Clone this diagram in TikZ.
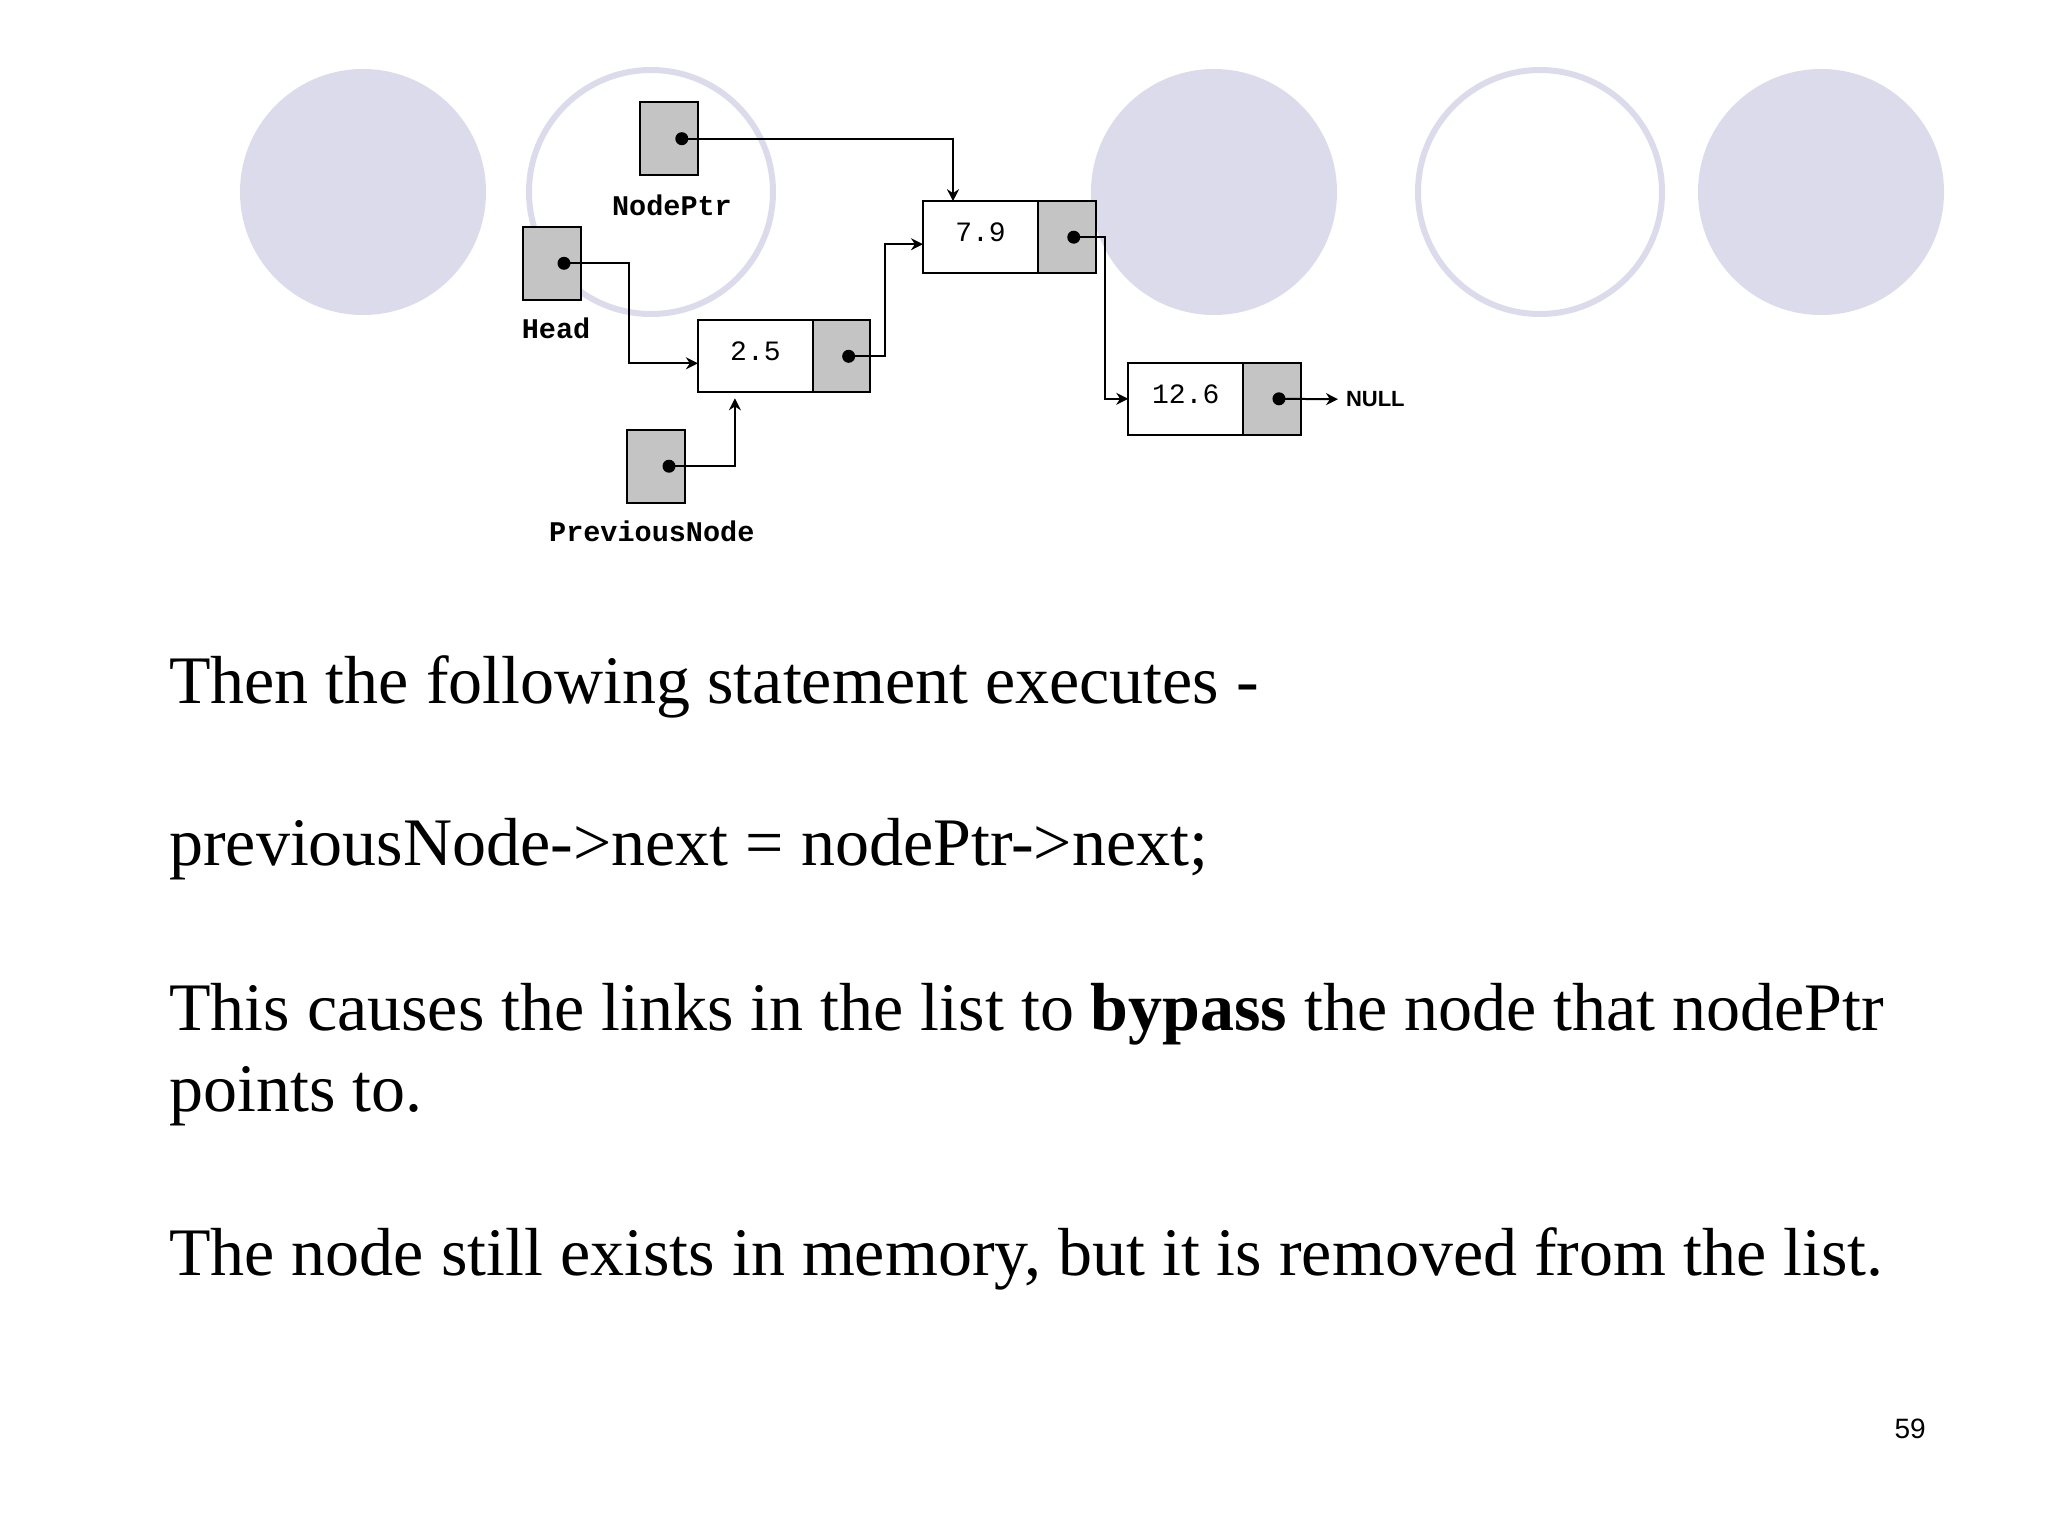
\documentclass[tikz,border=0pt]{standalone}
\usepackage{fontspec}
\setmainfont{Liberation Serif}
\setsansfont{Liberation Sans}
\setmonofont{Liberation Mono}
\usepackage{tikz}
\usetikzlibrary{arrows.meta}
\definecolor{bubble}{RGB}{220,219,236}
\definecolor{cellgray}{RGB}{196,196,196}

\begin{document}
\begin{tikzpicture}[x=1pt,y=-1pt,
    >={Stealth[length=12pt,width=12pt]},
    link/.style={->,line width=2pt},
    valcell/.style={draw,line width=2pt,fill=white,outer sep=0pt,inner sep=0pt,
        minimum width=115pt,minimum height=72pt,text height=18pt,text depth=9pt,
        font=\fontsize{28}{30}\ttfamily},
    ptrcell/.style={draw,line width=2pt,fill=cellgray,outer sep=0pt,inner sep=0pt,
        minimum width=57.5pt,minimum height=72pt},
    varbox/.style={draw,line width=2pt,fill=cellgray,outer sep=0pt,inner sep=0pt,
        minimum width=58pt,minimum height=73pt},
    pdot/.style={circle,fill=black,minimum size=13pt,inner sep=0pt},
    varname/.style={anchor=base,inner sep=0pt,font=\fontsize{28.5}{30}\ttfamily\bfseries},
    body/.style={anchor=base west,inner sep=0pt,font=\fontsize{68}{82}\selectfont}]

    \fill[white] (0,0) rectangle (2048,1536);
    \useasboundingbox (0,0) rectangle (2048,1536);

    % Bubbles
    \foreach \cx in {363,1214,1821}
        \fill[bubble] (\cx,192) circle[radius=123];
    \foreach \cx in {651,1540}
        \draw[bubble,line width=6pt] (\cx,192) circle[radius=122];

    % List cells
    \node[valcell] (n25) at (755.4,356.3) {2.5};
    \node[ptrcell,anchor=west] (n25p) at (n25.east) {};
    \node[valcell] (n79) at (980.5,237.2) {7.9};
    \node[ptrcell,anchor=west] (n79p) at (n79.east) {};
    \node[valcell] (n126) at (1185.7,398.8) {12.6};
    \node[ptrcell,anchor=west] (n126p) at (n126.east) {};
    \node[anchor=base west,inner xsep=8pt,inner ysep=0pt,outer sep=0pt,
        font=\fontsize{22}{24}\sffamily\bfseries] (null) at (1338,406.7) {NULL};

    % Pointer variables
    \node[varbox] (nodeptr) at (668.8,138.7) {};
    \node[varname] (nodeptrlbl) at (672,215) {NodePtr};
    \node[varbox] (head) at (552,263.3) {};
    \node[varname] (headlbl) at (556,338) {Head};
    \node[varbox] (prevnode) at (655.5,466.2) {};
    \node[varname] (prevnodelbl) at (651.8,541) {PreviousNode};

    % Dots
    \node[pdot] (dnp) at ([xshift=13pt]nodeptr.center) {};
    \node[pdot] (dh) at ([xshift=12pt]head.center) {};
    \node[pdot] (dpn) at ([xshift=13.5pt]prevnode.center) {};
    \node[pdot] (d25) at ([xshift=7pt]n25p.center) {};
    \node[pdot] (d79) at ([xshift=7pt]n79p.center) {};
    \node[pdot] (d126) at ([xshift=7pt]n126p.center) {};

    % Links
    \draw[link] (dnp.center) -| ([xshift=30pt]n79.north west);
    \draw[link] (dh.center) -- ++(65,0) |- ([yshift=-7pt]n25.west);
    \draw[link] (d25.center) -- ++(36,0) |- ([yshift=-7pt]n79.west);
    \draw[link] (dpn.center) -| ([xshift=37pt,yshift=-6pt]n25.south west);
    \draw[link] (d79.center) -- ++(31,0) |- (n126.west);
    \draw[link] (d126.center) -- (null.west);

    % Text
    \node[body] (stmt) at (169,703) {Then the following statement executes -};
    \node[body] (code) at (169,865) {previousNode->next = nodePtr->next;};
    \node[body] (bypass) at (169,1030) {This causes the links in the list to \textbf{bypass} the node that nodePtr};
    \node[body] (bypassb) at ([yshift=-81.7pt]bypass.base west) {points to.};
    \node[body] (removed) at (169,1275) {The node still exists in memory, but it is removed from the list.};
    \node[anchor=base east,inner sep=0pt,font=\fontsize{28}{30}\sffamily] (pagenum) at (1926,1438) {59};
\end{tikzpicture}
\end{document}
